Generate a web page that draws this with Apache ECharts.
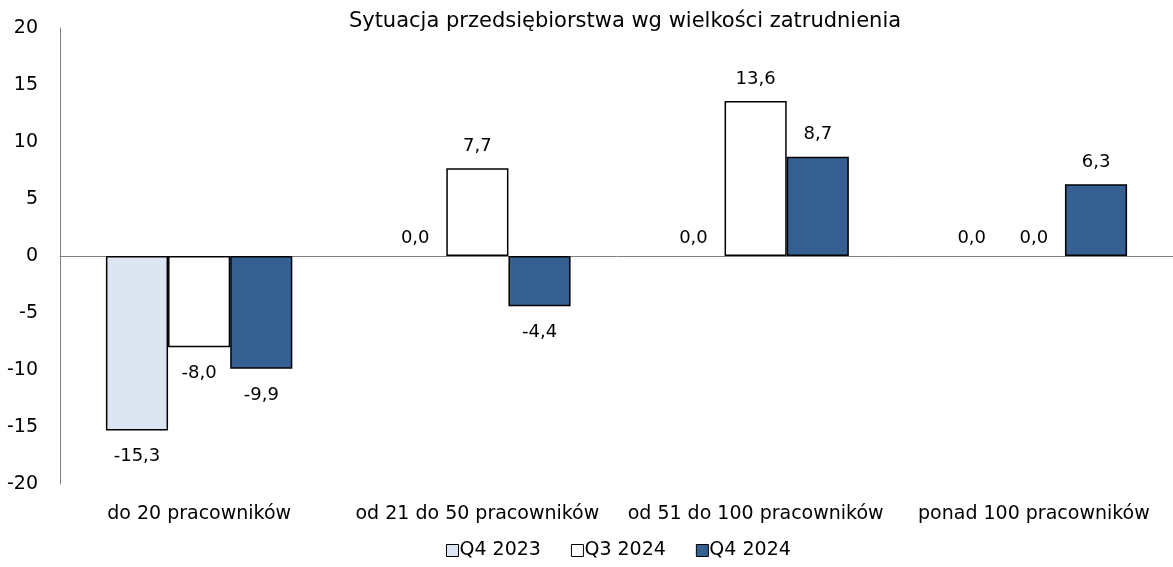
<!DOCTYPE html>
<html>
<head>
<meta charset="utf-8">
<script src="https://cdn.jsdelivr.net/npm/echarts@6/dist/echarts.min.js"></script>
<style>
  html, body { margin: 0; padding: 0; background: #fff; }
  #chart { width: 1173px; height: 567px; }
</style>
</head>
<body>
<div id="chart"></div>
<script>
const categories = ['do 20 pracowników', 'od 21 do 50 pracowników', 'od 51 do 100 pracowników', 'ponad 100 pracowników'];
const seriesNames = ['Q4 2023', 'Q3 2024', 'Q4 2024'];
const q4_2023 = [-15.3, 0.0, 0.0, 0.0];
const q3_2024 = [-8.0, 7.7, 13.6, 0.0];
const q4_2024 = [-9.9, -4.4, 8.7, 6.3];
const colors = ['#dce6f2', '#ffffff', '#376092'];
const yTicks = [-20, -15, -10, -5, 0, 5, 10, 15, 20];

const font = 'Tahoma, "DejaVu Sans", sans-serif';
const fmt = v => v.toFixed(1).replace('.', ',');

function makeSeries(name, values, color) {
    return {
        name: name,
        type: 'bar',
        xAxisIndex: 0,
        barGap: '0%',
        barCategoryGap: '33%',
        itemStyle: { color: color, borderColor: '#000', borderWidth: 1.5 },
        data: values.map(v => ({
            value: v,
            itemStyle: v === 0 ? { borderWidth: 0 } : undefined,
            label: { position: v < 0 ? 'bottom' : 'top', distance: v < 0 ? 17 : (v === 0 ? 9 : 13) }
        })),
        label: {
            show: true,
            color: '#000',
            fontFamily: font,
            fontSize: 18,
            formatter: p => fmt(p.value)
        }
    };
}

const chart = echarts.init(document.getElementById('chart'));
chart.setOption({
    animation: false,
    textStyle: { fontFamily: font },
    title: {
        text: 'Sytuacja przedsiębiorstwa wg wielkości zatrudnienia',
        left: 620, top: 6, textAlign: 'center',
        textStyle: { fontFamily: font, fontSize: 21, fontWeight: 'normal', color: '#000' }
    },
    legend: {
        bottom: 2, left: 441,
        itemWidth: 12, itemHeight: 12, itemGap: 30,
        textStyle: { fontFamily: font, fontSize: 19, color: '#000', padding: [0, 0, 0, -4] },
        data: seriesNames.map((n, i) => ({
            name: n,
            icon: 'rect',
            itemStyle: { color: colors[i], borderColor: '#000', borderWidth: 1 }
        }))
    },
    grid: { left: 60, right: -3, top: 28, bottom: 83 },
    xAxis: [{
        type: 'category',
        data: categories,
        axisLine: { onZero: true, lineStyle: { color: '#808080', width: 1 } },
        axisTick: { show: false },
        axisLabel: { show: false }
    }, {
        type: 'category',
        data: categories,
        position: 'bottom',
        axisLine: { show: false },
        axisTick: { show: false },
        axisLabel: { interval: 0, margin: 21, color: '#000', fontFamily: font, fontSize: 19 }
    }],
    yAxis: {
        type: 'value',
        min: yTicks[0], max: yTicks[yTicks.length - 1], interval: 5,
        axisLine: { show: true, lineStyle: { color: '#808080', width: 1 } },
        axisTick: { show: false },
        splitLine: { show: false },
        axisLabel: { margin: 22, color: '#000', fontFamily: font, fontSize: 19 }
    },
    series: [
        makeSeries(seriesNames[0], q4_2023, colors[0]),
        makeSeries(seriesNames[1], q3_2024, colors[1]),
        makeSeries(seriesNames[2], q4_2024, colors[2])
    ]
});
</script>
</body>
</html>
